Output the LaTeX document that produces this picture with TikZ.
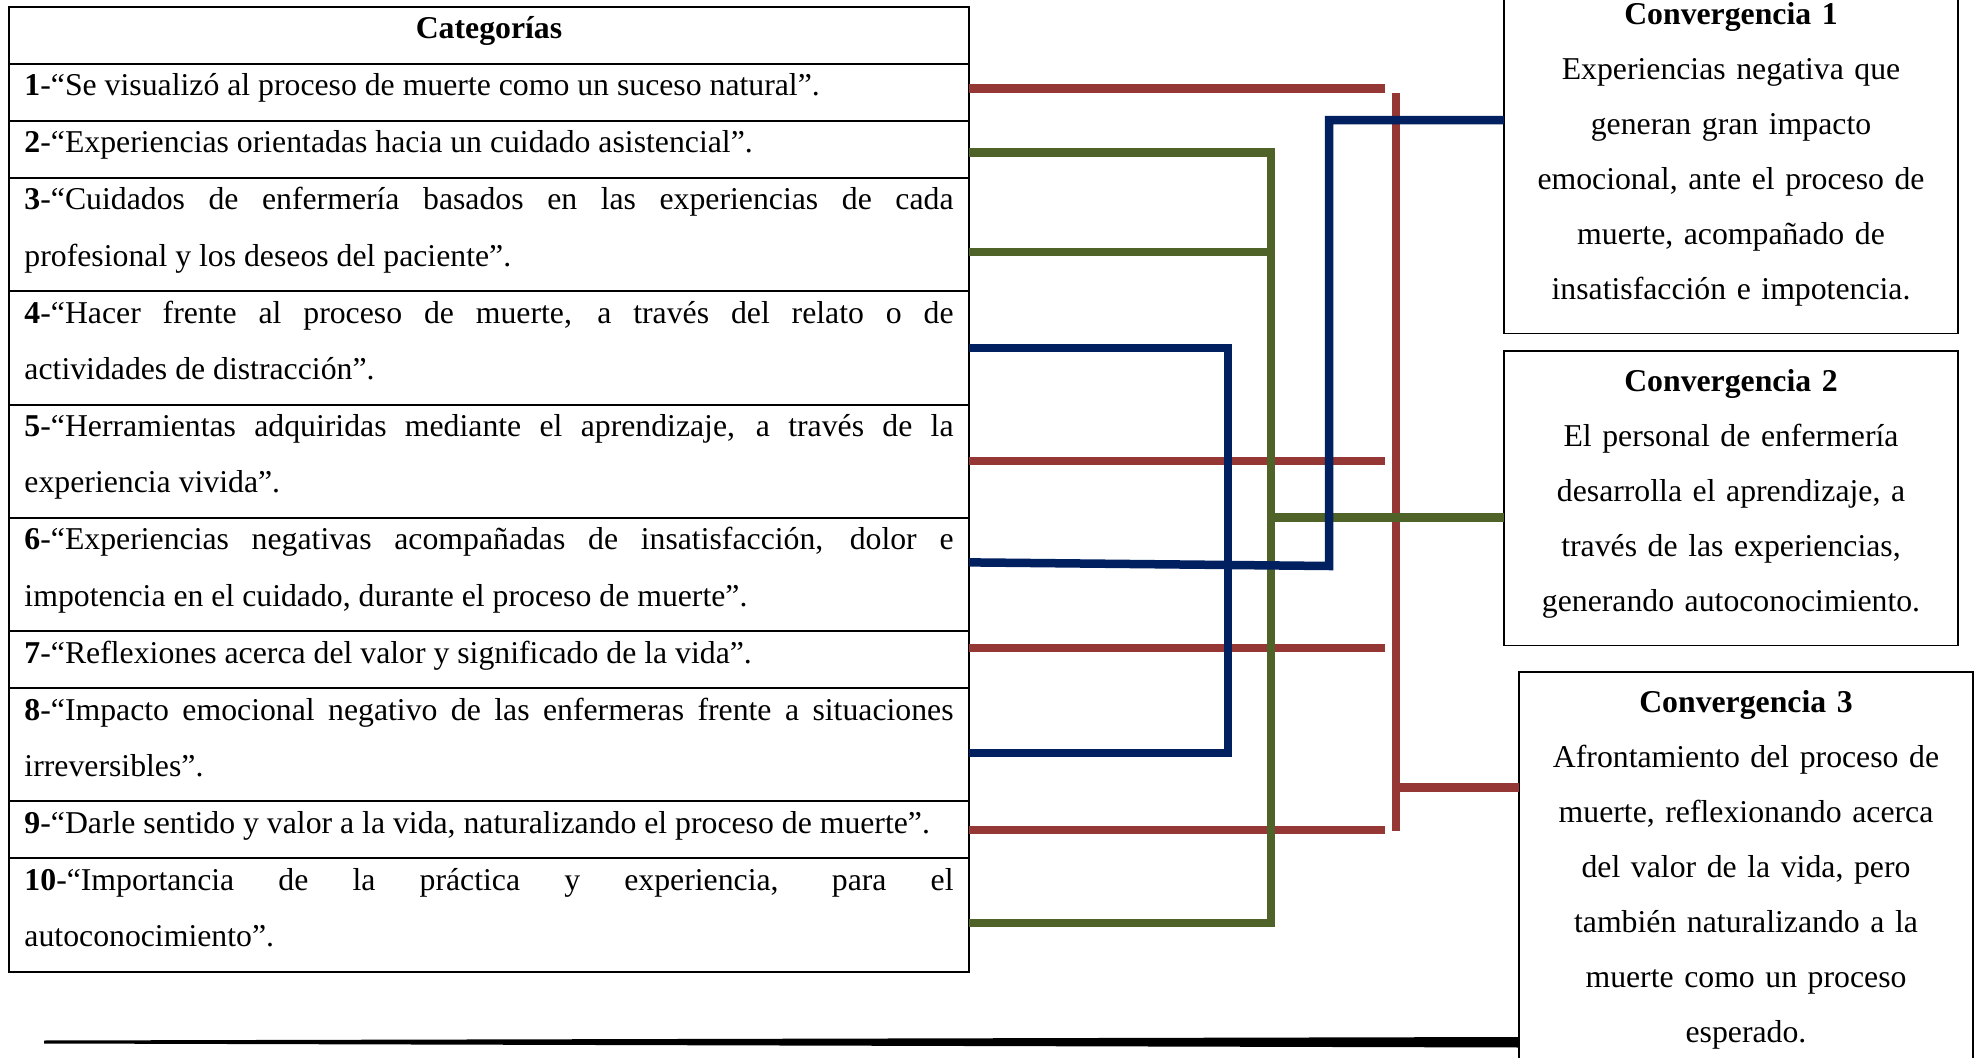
\documentclass[tikz,border=0pt]{standalone}
\usepackage{fontspec}
\setmainfont{Liberation Serif}
\usetikzlibrary{positioning}

\definecolor{convred}{RGB}{149,55,53}
\definecolor{convgreen}{RGB}{79,98,40}
\definecolor{convblue}{RGB}{0,32,96}

\hyphenpenalty=10000
\exhyphenpenalty=10000

% struts: text sits high in its slot, as in the source
\newcommand{\rt}{\rule{0pt}{12.8pt}}
\newcommand{\rb}{\rule[-10pt]{0pt}{10pt}}

\tikzset{
  catrow/.style={draw, line width=0.8pt, outer sep=0pt, inner xsep=6.2pt, inner ysep=0pt,
    text width=371.6pt, align=justify, font=\fontsize{12.7pt}{22.5pt}\selectfont},
  convbox/.style={draw, line width=0.7pt, anchor=north west, outer sep=0pt, inner xsep=4pt,
    inner ysep=3.5pt, text width=173.6pt, align=center, font=\fontsize{12.7pt}{22pt}\selectfont},
  redline/.style={draw=convred, line width=3.4pt},
  greenline/.style={draw=convgreen, line width=3.4pt},
  blueline/.style={draw=convblue, line width=3.4pt}
}

\begin{document}
\begin{tikzpicture}[x=0.4pt, y=-0.4pt, node distance=0pt]
    \useasboundingbox (0,0) rectangle (1975,1058);
    \clip (0,0) rectangle (1975,1058);

    % categories
    \node[catrow, anchor=north west, align=center] (r0) at (9,7) {\rt\textbf{Categorías}\rb};
    \node[catrow, below=of r0] (r1) {\rt\textbf{1}-“Se visualizó al proceso de muerte como un suceso natural”.\rb};
    \node[catrow, below=of r1] (r2) {\rt\textbf{2}-“Experiencias orientadas hacia un cuidado asistencial”.\rb};
    \node[catrow, below=of r2] (r3) {\rt\textbf{3}-“Cuidados de enfermería basados en las experiencias de cada\linebreak profesional y los deseos del paciente”.\rb};
    \node[catrow, below=of r3] (r4) {\rt\textbf{4}-“Hacer frente al proceso de muerte, a través del relato o de\linebreak actividades de distracción”.\rb};
    \node[catrow, below=of r4] (r5) {\rt\textbf{5}-“Herramientas adquiridas mediante el aprendizaje, a través de la\linebreak experiencia vivida”.\rb};
    \node[catrow, below=of r5] (r6) {\rt\textbf{6}-“Experiencias negativas acompañadas de insatisfacción, dolor e\linebreak impotencia en el cuidado, durante el proceso de muerte”.\rb};
    \node[catrow, below=of r6] (r7) {\rt\textbf{7}-“Reflexiones acerca del valor y significado de la vida”.\rb};
    \node[catrow, below=of r7] (r8) {\rt\textbf{8}-“Impacto emocional negativo de las enfermeras frente a situaciones\linebreak irreversibles”.\rb};
    \node[catrow, below=of r8] (r9) {\rt\textbf{9}-“Darle sentido y valor a la vida, naturalizando el proceso de muerte”.\rb};
    \node[catrow, below=of r9] (r10) {\rt\textbf{10}-“Importancia de la práctica y experiencia, para el\linebreak autoconocimiento”.\rb};

    % convergences
    \node[convbox] (c1) at (1504,-16) {\rt\textbf{Convergencia 1}\\ Experiencias negativa que\\ generan gran impacto\\ emocional, ante el proceso de\\ muerte, acompañado de\\ insatisfacción e impotencia.\rb};
    \node[convbox] (c2) at (1504,351) {\rt\textbf{Convergencia 2}\\ El personal de enfermería\\ desarrolla el aprendizaje, a\\ través de las experiencias,\\ generando autoconocimiento.\rb};
    \node[convbox] (c3) at (1519,672) {\rt\textbf{Convergencia 3}\\ Afrontamiento del proceso de\\ muerte, reflexionando acerca\\ del valor de la vida, pero\\ también naturalizando a la\\ muerte como un proceso\\ esperado.\rb};

    \coordinate (r1in) at ([yshift=1.6pt]r1.east);
    \coordinate (r2in) at ([yshift=-1.2pt]r2.east);
    \coordinate (r3in) at ([yshift=-6.9pt]r3.east);
    \coordinate (r6in) at ([yshift=4.8pt]r6.east);
    \coordinate (r7in) at ([yshift=4.6pt]r7.east);
    \coordinate (r8in) at ([yshift=-3.4pt]r8.east);
    \coordinate (r10in) at ([yshift=-3.2pt]r10.east);
    \coordinate (c1in) at ([yshift=15.4pt]c1.west);
    \coordinate (c2in) at ([yshift=-7.6pt]c2.west);
    \coordinate (c3in) at ([yshift=34.8pt]c3.west);

    \coordinate (redend) at (1385,0);
    \coordinate (redtop) at (1396,93);
    \coordinate (redbot) at (1396,831);
    \coordinate (greenbus) at (1271,0);
    \coordinate (bluebus) at (1228,0);
    \coordinate (blueknee) at (1329,566);

    % convergencia 3
    \foreach \a in {r1in, r5.east, r7in, r9.east}
        \draw[redline] (\a) -- (\a -| redend);
    \draw[redline] (redtop) -- (redbot);
    \draw[redline] (c3in -| redtop) -- (c3in);

    % convergencia 2
    \draw[greenline] (r2in) -- (r2in -| greenbus) -- (r10in -| greenbus) -- (r10in);
    \draw[greenline] (r3in) -- (r3in -| greenbus);
    \draw[greenline] (c2in -| greenbus) -- (c2in);

    % convergencia 1
    \draw[blueline] (r4.east) -- (r4.east -| bluebus) -- (r8in -| bluebus) -- (r8in);
    \draw[blueline] (r6in) -- (blueknee) -- (blueknee |- c1in) -- (c1in);

    \fill (44,1040.5) -- (1518,1037) -- (1518,1047.5) -- (44,1043.5) -- cycle;
\end{tikzpicture}
\end{document}
